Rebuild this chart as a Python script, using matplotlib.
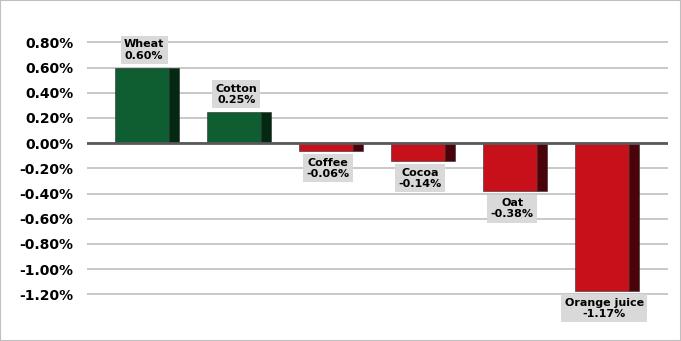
import matplotlib.pyplot as plt
import numpy as np
from matplotlib.patches import Rectangle

# commodity performance data (percent)
commodities = ['Wheat', 'Cotton', 'Coffee', 'Cocoa', 'Oat', 'Orange juice']
changes = [0.60, 0.25, -0.06, -0.14, -0.38, -1.17]
yticks = [-1.2, -1.0, -0.8, -0.6, -0.4, -0.2, 0.0, 0.2, 0.4, 0.6, 0.8]

fig = plt.figure(figsize=(6.81, 3.41), dpi=100)
fig.patches.append(Rectangle((0, 0), 1, 1, transform=fig.transFigure, fill=False,
                             edgecolor='#BFBFBF', linewidth=1.5))
ax = fig.add_axes([0.1278, 0.0628, 0.853, 0.850])

x = np.arange(len(commodities))
vals = np.array(changes)
front = np.where(vals >= 0, '#0F5E32', '#C8101A')
side = np.where(vals >= 0, '#052813', '#4A0309')

#front face + darker side to fake the 3d look
ax.bar(x - 0.35, vals, width=0.59, align='edge', color=front, edgecolor='#2a2a2a', linewidth=0.4, zorder=3)
ax.bar(x + 0.24, vals, width=0.11, align='edge', color=side, edgecolor='#2a2a2a', linewidth=0.4, zorder=3)

for xi, v, name in zip(x, vals, commodities):
    off = 5 if v >= 0 else -5
    ax.annotate(f'{name}\n{v:.2f}%', (xi - 0.03, v), xytext=(0, off), textcoords='offset points',
                ha='center', va='bottom' if v >= 0 else 'top', fontsize=8, fontweight='bold',
                linespacing=1.15, zorder=4,
                bbox=dict(boxstyle='square,pad=0.3', facecolor='#D9D9D9', edgecolor='none'))

ax.axhline(0, color='#595959', linewidth=2, zorder=4)
ax.set_yticks(yticks)
ax.set_yticklabels([f'{t:.2f}%' for t in yticks], fontsize=10, fontweight='bold')
ax.grid(axis='y', color='#BFBFBF', linewidth=1.2, zorder=0)
ax.tick_params(axis='y', length=0, pad=10)
ax.set_xticks([])
ax.set_ylim(-1.4, 0.9)
ax.set_xlim(-0.652, 5.663)
for s in ax.spines.values():
    s.set_visible(False)

plt.savefig('out.png', dpi=100)
